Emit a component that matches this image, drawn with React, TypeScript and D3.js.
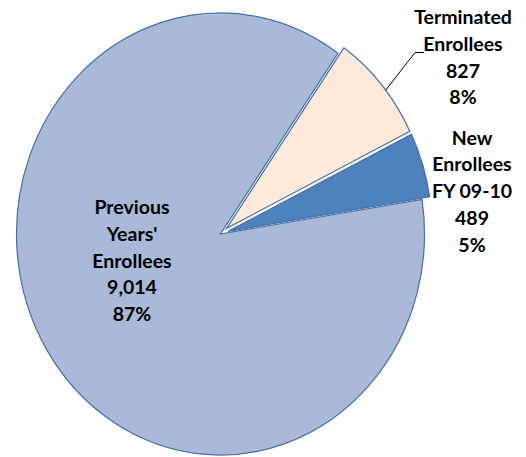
import React, { useEffect, useRef } from 'react';
import * as d3 from 'd3';

// chart data
const categories = ["Previous Years' Enrollees", 'Terminated Enrollees', 'New Enrollees FY 09-10'];
const labelLines = [["Previous", "Years'", "Enrollees"], ["Terminated", "Enrollees"], ["New", "Enrollees", "FY 09-10"]];
const values = [9014, 827, 489];
const fills = ['#A9B9D7', '#FDEADA', '#4F81BD'];
const exploded = [false, true, true];

const W = 526;
const H = 457;

export default function App() {
  const svgRef = useRef<SVGSVGElement>(null);

  useEffect(() => {
    if (!svgRef.current) return;
    const svg = d3.select(svgRef.current);
    svg.selectAll('*').remove();

    const cx = 220.5;
    const cy = 234;
    const rx = 204;
    const ry = 221;
    const sy = ry / rx;
    const explode = 8;
    const start = (81 * Math.PI) / 180;

    const total = d3.sum(values);
    const pie = d3.pie<number>().sort(null).value(d => d).startAngle(start).endAngle(start + 2 * Math.PI);
    const arcs = pie(values);
    const arc = d3.arc<d3.PieArcDatum<number>>().innerRadius(0).outerRadius(rx);

    const g = svg.append('g').attr('transform', `translate(${cx},${cy}) scale(1,${sy})`);

    const offset = (a: d3.PieArcDatum<number>, i: number) => {
      if (!exploded[i]) return [0, 0];
      const mid = (a.startAngle + a.endAngle) / 2;
      return [Math.sin(mid) * explode, -Math.cos(mid) * explode];
    };

    g.selectAll('path.slice')
      .data(arcs)
      .enter()
      .append('path')
      .attr('class', 'slice')
      .attr('d', arc)
      .attr('transform', (d, i) => {
        const [ox, oy] = offset(d, i);
        return `translate(${ox},${oy})`;
      })
      .attr('fill', (d, i) => fills[i])
      .attr('stroke', '#4470A6')
      .attr('stroke-width', 1.2)
      .attr('vector-effect', 'non-scaling-stroke');

    // leader line for the terminated slice
    const t = arcs[1];
    const [tox, toy] = offset(t, 1);
    const tm = (t.startAngle + t.endAngle) / 2 + 0.03;
    const lx = cx + tox + Math.sin(tm) * rx;
    const ly = cy + (toy - Math.cos(tm) * rx) * sy;
    svg.append('path')
      .attr('d', `M${lx},${ly} L415,52.5 L424,52.5`)
      .attr('fill', 'none')
      .attr('stroke', '#000')
      .attr('stroke-width', 1);

    const fmtN = d3.format(',');
    const fmtP = d3.format('.0%');
    const labelPos = [
      { x: 132, y: 214 },
      { x: 463, y: 24 },
      { x: 472, y: 144.5 },
    ];
    const lineH = 26.8;

    labelLines.forEach((lines, i) => {
      const all = [...lines, fmtN(values[i]), fmtP(values[i] / total)];
      const text = svg.append('text')
        .attr('text-anchor', 'middle')
        .attr('font-family', 'Lato, "Open Sans", sans-serif')
        .attr('font-weight', 700)
        .attr('font-size', 19.5)
        .attr('fill', '#000')
        .attr('aria-label', categories[i]);
      all.forEach((s, j) => {
        text.append('tspan')
          .attr('x', labelPos[i].x)
          .attr('y', labelPos[i].y + j * lineH)
          .text(s);
      });
    });
  }, []);

  return (
    <svg
      ref={svgRef}
      width={W}
      height={H}
      style={{ position: 'absolute', left: 0, top: 0, background: '#fff' }}
    />
  );
}
